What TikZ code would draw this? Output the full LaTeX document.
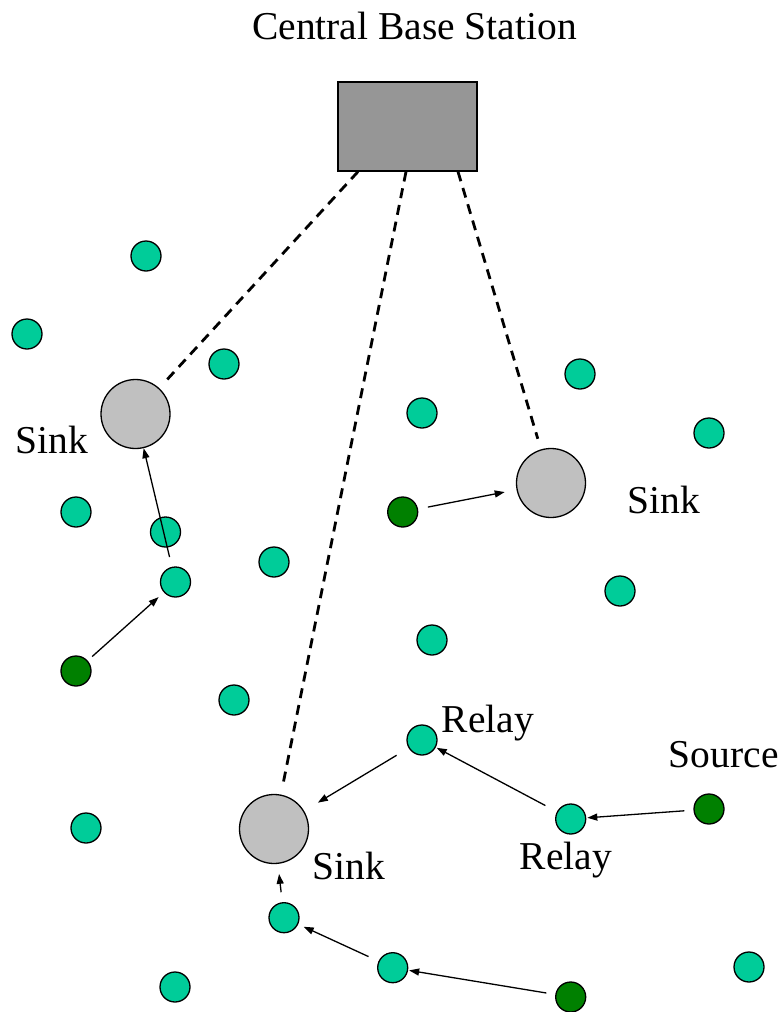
\documentclass[tikz,border=0pt]{standalone}
\usepackage{fontspec}
\setmainfont{Liberation Serif}
\usetikzlibrary{positioning}
\usetikzlibrary{arrows.meta}

\definecolor{sensorgreen}{RGB}{0,204,153}
\definecolor{sourcegreen}{RGB}{0,128,0}
\definecolor{sinkgray}{RGB}{192,192,192}
\definecolor{stationgray}{RGB}{150,150,150}

\begin{document}
\begin{tikzpicture}[x=1pt, y=-1pt, line width=1.3pt,
  sensor/.style={circle, draw, fill=sensorgreen, minimum size=30pt, inner sep=0pt},
  srcnode/.style={sensor, fill=sourcegreen},
  sinknode/.style={circle, draw, fill=sinkgray, minimum size=69pt, inner sep=0pt},
  station/.style={draw, fill=stationgray, minimum width=139pt, minimum height=89pt, inner sep=0pt},
  lbl/.style={font=\fontsize{39.5}{45}\selectfont, inner sep=0pt, anchor=base west},
  hop/.style={-{Triangle[length=10pt, width=7pt]}},
  uplink/.style={dash pattern=on 10pt off 7pt, line width=2.8pt}]

\useasboundingbox (0,0) rectangle (781,1012);

\node[station] (bs) at (407.5,126.5) {};
\node[lbl, anchor=base] (title) at (414.5,39) {Central Base Station};

% sinks
\node[sinknode] (sink1) at (135.5,414) {};
\node[sinknode] (sink2) at (551,483) {};
\node[sinknode] (sink3) at (274,829) {};

% plain sensors
\node[sensor] (s1) at (146,256) {};
\node[sensor] (s2) at (27,334) {};
\node[sensor] (s3) at (224,364) {};
\node[sensor] (s4) at (580,374) {};
\node[sensor] (s5) at (422,413) {};
\node[sensor] (s6) at (709,433) {};
\node[sensor] (s7) at (76,512) {};
\node[sensor] (s8) at (165.5,532) {};
\node[sensor] (s9) at (175.5,582) {};
\node[sensor] (s10) at (274,562) {};
\node[sensor] (s11) at (620,591) {};
\node[sensor] (s12) at (432,640) {};
\node[sensor] (s13) at (234,700) {};
\node[sensor] (relay1) at (422,740) {};
\node[sensor] (relay2) at (570.7,819) {};
\node[sensor] (s16) at (86,828) {};
\node[sensor] (s17) at (284,917.7) {};
\node[sensor] (s18) at (392.7,967.7) {};
\node[sensor] (s19) at (175,987) {};
\node[sensor] (s20) at (749,967) {};

% sources
\node[srcnode] (src1) at (76,671) {};
\node[srcnode] (src2) at (402.7,512) {};
\node[srcnode] (src3) at (709,809) {};
\node[srcnode] (src4) at (570.7,997) {};

% labels
\node[lbl] (lsink1) at (15,453) {Sink};
\node[lbl] (lsink2) at (627,513) {Sink};
\node[lbl] (lsink3) at (311.7,879) {Sink};
\node[lbl] (lrelay1) at (441,732.3) {Relay};
\node[lbl] (lrelay2) at (519.3,869) {Relay};
\node[lbl] (lsrc) at (668.3,767.7) {Source};

% links up to the base station
\draw[uplink, shorten >=8pt] ([xshift=-49.5pt]bs.south) -- (sink1);
\draw[uplink, shorten >=11pt] ([xshift=-1.5pt]bs.south) -- (sink3);
\draw[uplink, shorten >=11pt] ([xshift=50.5pt]bs.south) -- (sink2);

% hops
\draw[hop, shorten <=6pt, shorten >=7pt] (src1) -- (s9);
\draw[hop, shorten <=10pt] (s9) -- (sink1);
\draw[hop, shorten <=10pt, shorten >=12pt] (src2) -- (sink2);
\draw[hop, shorten <=9pt, shorten >=1pt] (src3) -- (relay2);
\draw[hop, shorten <=13pt, shorten >=1pt] (relay2) -- (relay1);
\draw[hop, shorten <=14pt, shorten >=16pt] (relay1) -- (sink3);
\draw[hop, shorten <=9pt, shorten >=1pt] (src4) -- (s18);
\draw[hop, shorten <=11pt, shorten >=6pt] (s18) -- (s17);
\draw[hop, shorten <=10pt, shorten >=10pt] (s17) -- (sink3);

\end{tikzpicture}
\end{document}
